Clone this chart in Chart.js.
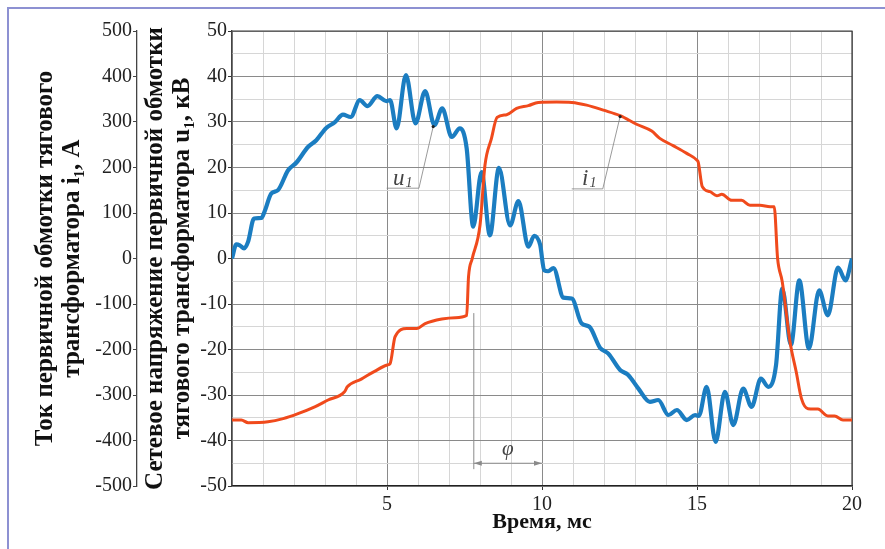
<!DOCTYPE html>
<html lang="ru">
<head>
  <meta charset="UTF-8">
  <title>Ток и напряжение первичной обмотки тягового трансформатора</title>
  <script src="https://cdn.jsdelivr.net/npm/chart.js"></script>
  <style>
    body {
      margin: 0;
      background: #fff;
    }
    #wrap {
      position: relative;
      width: 885px;
      height: 549px;
      overflow: hidden;
    }
    #frame {
      position: absolute;
      left: 7px;
      top: 7px;
      width: 1000px;
      height: 1000px;
      border-top: 2px solid #8d91d2;
      border-left: 2px solid #8d91d2;
    }
    canvas {
      position: absolute;
      left: 0;
      top: 0;
    }
  </style>
</head>
<body>
  <div id="wrap">
    <div id="frame"></div>
    <canvas id="chart" width="885" height="549"></canvas>
  </div>

  <script>
    // network voltage u1, kV
    const uTime = [0, 0.14, 0.25, 0.39, 0.52, 0.71, 0.95, 1.05, 1.27, 1.48, 1.81, 2.08, 2.45, 2.72, 3.04, 3.31,
      3.58, 3.83, 4.12, 4.37, 4.69, 4.98, 5.10, 5.31, 5.61, 5.92, 6.23, 6.53, 6.78, 7.09, 7.35, 7.57, 7.78,
      8.05, 8.32, 8.61, 8.97, 9.24, 9.56, 9.75, 9.94, 10.07, 10.2, 10.37, 10.69, 10.96, 11.28, 11.53, 11.87,
      12.14, 12.52, 12.78, 13.11, 13.48, 13.75, 14.08, 14.35, 14.67, 14.94, 15.06, 15.31, 15.6, 15.9, 16.17,
      16.49, 16.76, 17.06, 17.3, 17.55, 17.75, 18.03, 18.3, 18.61, 18.94, 19.22, 19.55, 19.79, 20];
    const uValues = [0, 3.1, 2.9, 2.2, 3.7, 8.8, 8.9, 10.3, 14.3, 15.0, 19.4, 21.1, 24.5, 26.0, 28.7, 29.9,
      31.6, 31.1, 34.8, 33.5, 35.7, 34.6, 34.8, 28.6, 40.3, 29.7, 36.8, 29.3, 33.0, 26.7, 28.6, 24.2, 7.0,
      19.0, 5.1, 19.9, 7.3, 12.6, 2.6, 5.0, 3.0, -2.6, -2.8, -2.1, -8.6, -8.8, -14.3, -15.0, -19.6,
      -20.9, -24.5, -25.6, -28.6, -31.5, -31.1, -34.4, -33.3, -35.5, -34.4, -34.6, -28.2, -40.3, -29.3, -36.6,
      -28.6, -32.6, -26.4, -28.2, -23.4, -6.6, -19.0, -4.8, -19.8, -7.0, -12.5, -2.0, -4.8, 0];

    // primary current i1, A
    const iTime = [0, 0.3, 0.52, 1.16, 1.65, 2.13, 2.67, 3.1, 3.63, 3.72, 4.17, 4.6, 5.01, 5.1, 5.26, 5.64,
      5.96, 6.23, 6.77, 7.2, 7.57, 7.63, 7.75, 8.0, 8.16, 8.37, 8.55, 8.86, 9.18, 9.56, 9.88, 10.47, 10.96,
      11.44, 11.98, 12.52, 13.05, 13.54, 13.8, 14.23, 14.67, 15.0, 15.04, 15.17, 15.42, 15.64, 15.8, 16.12,
      16.44, 16.71, 17.03, 17.36, 17.49, 17.6, 17.75, 18.0, 18.2, 18.37, 18.58, 18.9, 19.22, 19.44, 19.71, 20];
    const iValues = [-355, -355, -361, -359, -352, -341, -326, -311, -293, -282, -265, -248, -234, -231, -172, -154,
      -154, -143, -133, -130, -125, -40, 0, 73, 205, 264, 310, 316, 330, 336, 343, 344, 343,
      337, 326, 314, 295, 280, 264, 248, 231, 216, 212, 158, 147, 138, 141, 128,
      128, 117, 117, 114, 114, 0, -51, -183, -249, -308, -330, -331, -346, -346, -355, -355];

    const xLabels = [5, 10, 15, 20];

    // annotation anchors (ms, kV)
    const uLeader = [[6.49, 29.0], [6.03, 15.45], [4.99, 15.45]];
    const iLeader = [[12.52, 31.2], [11.96, 15.3], [10.96, 15.3]];
    const phiFrom = 7.8, phiTo = 10;

    const serif = "'Liberation Serif', 'Times New Roman', serif";
    const majorGrid = '#8a8a8a';
    const minorGrid = '#d6d6d6';
    const tickFont = { family: serif, size: 20 };
    const titleFont = { family: serif, size: 25, weight: 'bold', lineHeight: 1.08 };

    const plotFrame = {
      id: 'plotFrame',
      beforeDatasetsDraw(chart) {
        const { ctx, chartArea: a } = chart;
        ctx.save();
        ctx.strokeStyle = '#3c3c3c';
        ctx.lineWidth = 1.2;
        ctx.beginPath();
        ctx.moveTo(a.left, a.top);
        ctx.lineTo(a.right, a.top);
        ctx.lineTo(a.right, a.bottom);
        ctx.stroke();
        ctx.restore();
      }
    };

    const annotate = {
      id: 'annotate',
      afterDatasetsDraw(chart) {
        const { ctx, scales } = chart;
        const X = t => scales.x.getPixelForValue(t);
        const Y = v => scales.yU.getPixelForValue(v);
        ctx.save();

        // leaders to the curves
        [uLeader, iLeader].forEach(pts => {
          ctx.strokeStyle = '#808080';
          ctx.lineWidth = 0.8;
          ctx.beginPath();
          pts.forEach(([t, v], k) => k ? ctx.lineTo(X(t), Y(v)) : ctx.moveTo(X(t), Y(v)));
          ctx.stroke();
          ctx.fillStyle = '#222';
          ctx.beginPath();
          ctx.arc(X(pts[0][0]), Y(pts[0][1]), 1.6, 0, 2 * Math.PI);
          ctx.fill();
        });

        function label(main, sub, t, v) {
          ctx.fillStyle = '#444';
          ctx.textBaseline = 'alphabetic';
          ctx.textAlign = 'left';
          ctx.font = 'italic 23px ' + serif;
          const x0 = X(t), y0 = Y(v);
          ctx.fillText(main, x0, y0);
          const w = ctx.measureText(main).width;
          ctx.font = 'italic 14px ' + serif;
          ctx.fillText(sub, x0 + w + 1, y0 + 2);
        }
        label('u', '1', 5.19, 16.1);
        label('i', '1', 11.29, 16.1);

        // phase shift φ
        ctx.strokeStyle = '#8a8a8a';
        ctx.lineWidth = 1;
        ctx.beginPath();
        ctx.moveTo(X(phiFrom), Y(-12));
        ctx.lineTo(X(phiFrom), Y(-46.3));
        ctx.moveTo(X(phiFrom), Y(-45));
        ctx.lineTo(X(phiTo), Y(-45));
        ctx.stroke();
        ctx.fillStyle = '#8a8a8a';
        const ya = Y(-45);
        [[X(phiFrom), 1], [X(phiTo), -1]].forEach(([xa, d]) => {
          ctx.beginPath();
          ctx.moveTo(xa, ya);
          ctx.lineTo(xa + d * 8, ya - 2.6);
          ctx.lineTo(xa + d * 8, ya + 2.6);
          ctx.closePath();
          ctx.fill();
        });
        ctx.fillStyle = '#444';
        ctx.font = 'italic 21px ' + serif;
        ctx.textAlign = 'center';
        ctx.fillText('φ', X((phiFrom + phiTo) / 2), Y(-43.2));
        ctx.restore();
      }
    };

    const chart = new Chart(document.getElementById('chart').getContext('2d'), {
      type: 'line',
      data: {
        datasets: [{
          label: 'u1',
          data: uTime.map((t, k) => ({ x: t, y: uValues[k] })),
          yAxisID: 'yU',
          borderColor: '#1b7dc1',
          borderWidth: 4.2,
          pointRadius: 0,
          cubicInterpolationMode: 'monotone',
          order: 1
        }, {
          label: 'i1',
          data: iTime.map((t, k) => ({ x: t, y: iValues[k] })),
          yAxisID: 'yI',
          borderColor: '#f04a1c',
          borderWidth: 3,
          pointRadius: 0,
          cubicInterpolationMode: 'monotone',
          order: 0
        }]
      },
      options: {
        responsive: false,
        animation: false,
        devicePixelRatio: 1,
        layout: { padding: { left: 10, right: 33, top: 31, bottom: 0 } },
        plugins: {
          legend: { display: false },
          tooltip: { enabled: false }
        },
        scales: {
          x: {
            type: 'linear',
            min: 0,
            max: 20,
            ticks: {
              stepSize: 1,
              autoSkip: false,
              maxRotation: 0,
              padding: 3,
              color: '#222',
              font: tickFont,
              callback: v => xLabels.includes(v) ? String(v) : ''
            },
            grid: {
              color: c => c.tick.value % 5 === 0 ? majorGrid : minorGrid,
              tickColor: c => xLabels.includes(c.tick.value) ? '#333' : 'rgba(0,0,0,0)',
              tickLength: 4
            },
            border: { color: '#222', width: 1.3 },
            title: {
              display: true,
              text: 'Время, мс',
              color: '#111',
              font: { family: serif, size: 22, weight: 'bold' },
              padding: { top: 0, bottom: 13 }
            },
            afterFit: s => { s.height = 63; }
          },
          yU: {
            position: 'left',
            weight: 0,
            min: -50,
            max: 50,
            ticks: {
              stepSize: 5,
              autoSkip: false,
              padding: 1,
              color: '#222',
              font: tickFont,
              callback: v => v % 10 === 0 ? String(v) : ''
            },
            grid: {
              color: c => c.tick.value % 10 === 0 ? majorGrid : minorGrid,
              tickColor: c => c.tick.value % 10 === 0 ? '#333' : 'rgba(0,0,0,0)',
              tickLength: 4
            },
            border: { color: '#444', width: 1.3 },
            title: {
              display: true,
              text: ['Сетевое напряжение первичной обмотки', 'тягового трансформатора u₁, кВ'],
              color: '#111',
              font: titleFont,
              padding: { top: 5, bottom: 0 }
            },
            afterFit: s => { s.width = 95; }
          },
          yI: {
            position: 'left',
            weight: 1,
            min: -500,
            max: 500,
            ticks: {
              stepSize: 100,
              padding: 1,
              color: '#222',
              font: tickFont,
              callback: v => String(v)
            },
            grid: {
              drawOnChartArea: false,
              tickColor: '#444',
              tickLength: 4
            },
            border: { color: '#444', width: 1.3 },
            title: {
              display: true,
              text: ['Ток первичной обмотки тягового', 'трансформатора i₁, А'],
              color: '#111',
              font: titleFont,
              padding: { top: 22, bottom: 0 }
            },
            afterFit: s => { s.width = 127; }
          }
        }
      },
      plugins: [plotFrame, annotate]
    });
  </script>
</body>
</html>
